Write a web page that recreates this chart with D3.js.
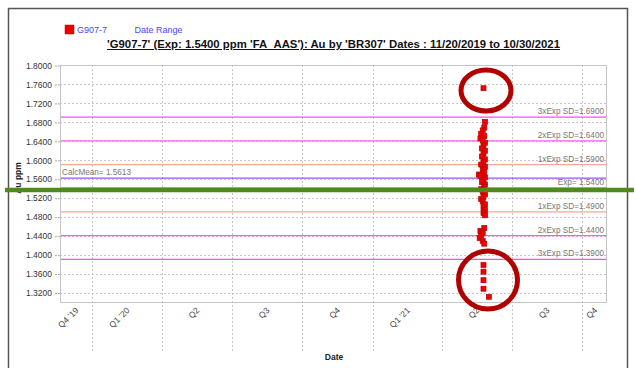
<!DOCTYPE html>
<html><head><meta charset="utf-8">
<script src="https://cdn.jsdelivr.net/npm/d3@7"></script>
<style>body{margin:0;background:#fff}svg{display:block}text{font-family:"Liberation Sans",Arial,sans-serif}</style>
</head><body><svg id="c" width="636" height="368"></svg>
<script>
// ---- data ----
const seriesName = "G907-7";
const titleText = "'G907-7' (Exp: 1.5400 ppm 'FA_AAS'): Au by 'BR307' Dates : 11/20/2019 to 10/30/2021";
const yTicks = [1.80,1.76,1.72,1.68,1.64,1.60,1.56,1.52,1.48,1.44,1.40,1.36,1.32];
const quarterLabels = ["Q4 '19","Q1 '20","Q2","Q3","Q4","Q1 '21","Q2","Q3","Q4"];
const quarterStarts = ["2019-10-01","2020-01-01","2020-04-01","2020-07-01","2020-10-01","2021-01-01","2021-04-01","2021-07-01","2021-10-01","2022-01-01"];
const refNames = ["3xExp SD=1.6900","2xExp SD=1.6400","1xExp SD=1.5900","Exp= 1.5400","1xExp SD=1.4900","2xExp SD=1.4400","3xExp SD=1.3900"];
const refValues = [1.69,1.64,1.59,1.54,1.49,1.44,1.39];
const refKinds = ["sd3","sd2","sd1","exp","sd1","sd2","sd3"];
const calcMean = 1.5613;
const pointDates = ["2021-05-25","2021-05-27","2021-05-26","2021-05-24","2021-05-22","2021-05-26","2021-05-21","2021-05-24","2021-05-27","2021-05-25","2021-05-23","2021-05-27","2021-05-25","2021-05-23","2021-05-27","2021-05-25","2021-05-22","2021-05-27","2021-05-24","2021-05-26","2021-05-19","2021-05-21","2021-05-27","2021-05-25","2021-05-23","2021-05-27","2021-05-26","2021-05-22","2021-05-24","2021-05-27","2021-05-25","2021-05-22","2021-05-24","2021-05-27","2021-05-25","2021-05-27","2021-05-25","2021-05-27","2021-05-26","2021-05-21","2021-05-24","2021-05-22","2021-05-20","2021-05-24","2021-05-26","2021-05-25","2021-05-25","2021-05-25","2021-05-25","2021-06-01"];
const pointValues = [1.751,1.680,1.668,1.662,1.655,1.650,1.645,1.641,1.636,1.630,1.624,1.619,1.613,1.607,1.601,1.596,1.590,1.585,1.579,1.574,1.569,1.566,1.563,1.558,1.553,1.548,1.543,1.538,1.533,1.527,1.522,1.517,1.512,1.506,1.500,1.494,1.488,1.483,1.456,1.450,1.446,1.440,1.435,1.429,1.423,1.378,1.364,1.346,1.328,1.311];

// ---- setup ----
const svg = d3.select("#c");
const parse = d3.utcParse("%Y-%m-%d");
const L=60,R=607,T=65,B=302;
const x = d3.scaleUtc().domain([parse("2019-11-20"), parse("2021-11-02")]).range([L,R]);
const y = d3.scaleLinear().domain([1.30,1.80]).range([B,T]);
const refColor = {sd3:"#f050f0", sd2:"#f060f0", sd1:"#f4a898", exp:"#3a9a3a"};

// outer frame
svg.append("path").attr("d","M8.5,368 V8.5 H627.5 V368").attr("fill","none").attr("stroke","#555").attr("stroke-width",1.5);

// legend
svg.append("rect").attr("x",65).attr("y",25).attr("width",9).attr("height",9).attr("fill","#ee0000").attr("stroke","#cc0000").attr("stroke-width",0.5);
svg.append("text").attr("x",77).attr("y",33).attr("font-size",9).attr("fill","#4848ff").text(seriesName);
svg.append("text").attr("x",134.5).attr("y",33).attr("font-size",9).attr("fill","#4848ff").text("Date Range");

// title
svg.append("text").attr("x",107).attr("y",48).attr("font-size",10).attr("font-weight","bold")
  .attr("text-decoration","underline").attr("fill","#111")
  .attr("textLength",453).attr("lengthAdjust","spacingAndGlyphs").text(titleText);

// horizontal grid
svg.append("g").selectAll("line").data(yTicks).join("line")
  .attr("x1",L).attr("x2",R).attr("y1",d=>Math.round(y(d))+0.5).attr("y2",d=>Math.round(y(d))+0.5)
  .attr("stroke","#c8c8c8").attr("stroke-dasharray","2,2");

// vertical grid (quarter boundaries)
const qDates = quarterStarts.map(parse);
const inner = qDates.filter(d=>x(d)>L && x(d)<R);
svg.append("g").selectAll("line").data(inner).join("line")
  .attr("x1",d=>Math.round(x(d))+0.5).attr("x2",d=>Math.round(x(d))+0.5).attr("y1",T).attr("y2",352)
  .attr("stroke","#c8c8c8").attr("stroke-dasharray","2,2");

// y axis
const yAxis = d3.axisLeft(y).tickValues(yTicks).tickFormat(d3.format(".4f")).tickSize(5).tickPadding(3);
const gy = svg.append("g").attr("transform",`translate(${L},0.5)`).call(yAxis);
gy.select(".domain").remove();
gy.selectAll(".tick line").attr("stroke","#aaa").attr("stroke-dasharray","2,1");
gy.selectAll(".tick text").attr("font-family","Liberation Sans, Arial, sans-serif").attr("font-size",8.5).attr("fill","#333");

// plot border
svg.append("rect").attr("x",L+0.5).attr("y",T+0.5).attr("width",R-L-1).attr("height",B-T).attr("fill","none").attr("stroke","#c4c4c4");

// x labels at midpoints of visible part of each quarter
const qMid = quarterLabels.map((lab,i)=>{
  const a = Math.max(L, x(qDates[i])), b = Math.min(R, x(qDates[i+1]));
  return {lab, m:(a+b)/2};
});
svg.append("g").selectAll("text").data(qMid).join("text")
  .attr("transform",d=>`translate(${d.m+3},${311}) rotate(-45)`)
  .attr("text-anchor","end").attr("font-size",8.5).attr("fill","#444").text(d=>d.lab);

// reference lines
svg.append("g").selectAll("line").data(refValues).join("line")
  .attr("x1",L+1).attr("x2",R-1).attr("y1",d=>y(d)).attr("y2",d=>y(d))
  .attr("stroke",(d,i)=>refColor[refKinds[i]]).attr("stroke-width",1.3);
svg.append("line").attr("x1",L+1).attr("x2",R-1).attr("y1",y(calcMean)).attr("y2",y(calcMean))
  .attr("stroke","#a050f0").attr("stroke-width",1.3);
svg.append("g").selectAll("text").data(refValues).join("text")
  .attr("x",604).attr("y",d=>y(d)-3).attr("text-anchor","end").attr("font-size",8.2).attr("fill","#777")
  .text((d,i)=>refNames[i]);
svg.append("text").attr("x",62).attr("y",y(calcMean)-3).attr("font-size",8.2).attr("fill","#777").text("CalcMean= 1.5613");

// points
svg.append("g").selectAll("rect").data(pointValues).join("rect")
  .attr("x",(d,i)=>x(parse(pointDates[i]))-2.5).attr("y",d=>y(d)-2.5).attr("width",5).attr("height",5)
  .attr("fill","#f00000").attr("stroke","#b80000").attr("stroke-width",0.7);

// axis titles
svg.append("text").attr("transform","translate(21,178) rotate(-90)").attr("text-anchor","middle")
  .attr("font-size",8.5).attr("font-weight","bold").attr("fill","#222").text("Au ppm");
svg.append("text").attr("x",334).attr("y",360).attr("text-anchor","middle")
  .attr("font-size",8.5).attr("font-weight","bold").attr("fill","#222").text("Date");

// annotation overlays (green bar, red circles)
svg.append("line").attr("x1",5).attr("x2",634).attr("y1",190).attr("y2",190).attr("stroke","#4f8a1a").attr("stroke-width",4.5);
svg.append("ellipse").attr("cx",486).attr("cy",90.5).attr("rx",25).attr("ry",20.5).attr("fill","none").attr("stroke","#b00000").attr("stroke-width",5);
svg.append("ellipse").attr("cx",488).attr("cy",280).attr("rx",29.5).attr("ry",29).attr("fill","none").attr("stroke","#b00000").attr("stroke-width",5);
</script></body></html>
